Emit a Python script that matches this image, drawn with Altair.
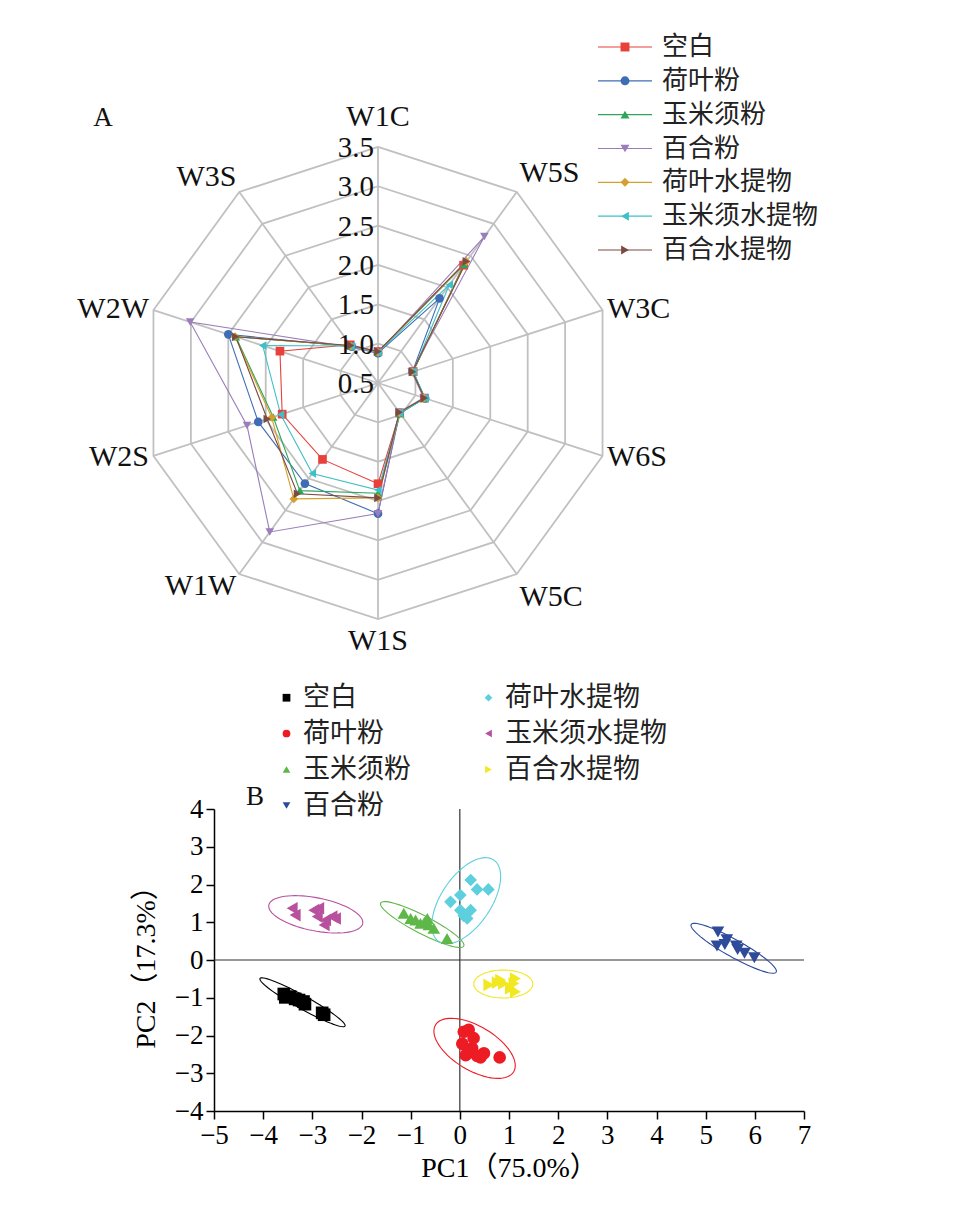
import altair as alt
import pandas as pd
import numpy as np

SERIF = "Liberation Serif"
CJK = "Noto Sans CJK SC"
MIX = "Liberation Serif, Noto Sans CJK SC"

# ---------------- Panel A: radar (electronic nose sensors) ----------------
sensors = ["W1C", "W5S", "W3C", "W6S", "W5C", "W1S", "W1W", "W2S", "W2W", "W3S"]
groups = ["空白", "荷叶粉", "玉米须粉", "百合粉", "荷叶水提物", "玉米须水提物", "百合水提物"]
radar_kongbai = [0.90, 2.35, 0.97, 1.12, 0.97, 1.78, 1.70, 1.78, 1.81, 1.10]
radar_heyefen = [0.88, 1.83, 0.96, 1.13, 0.97, 2.16, 2.08, 2.10, 2.50, 1.07]
radar_yumixufen = [0.89, 2.36, 0.97, 1.12, 0.98, 1.90, 2.19, 1.90, 2.40, 1.08]
radar_baihefen = [0.88, 2.80, 0.95, 1.11, 0.96, 2.16, 2.84, 2.25, 3.01, 1.06]
radar_heyeshui = [0.89, 2.41, 0.96, 1.12, 0.97, 1.96, 2.32, 1.92, 2.41, 1.08]
radar_yumixushui = [0.89, 2.04, 0.97, 1.13, 0.97, 1.86, 1.92, 1.80, 2.04, 1.08]
radar_baiheshui = [0.90, 2.41, 0.96, 1.12, 0.96, 1.96, 2.24, 1.98, 2.40, 1.09]
radar_series = [radar_kongbai, radar_heyefen, radar_yumixufen, radar_baihefen,
                radar_heyeshui, radar_yumixushui, radar_baiheshui]
radar_ticks = [0.5, 1.0, 1.5, 2.0, 2.5, 3.0, 3.5]
radar_colors = ["#E8403A", "#3E6DB5", "#2EA65A", "#9A7DBA", "#D4A030", "#3FC0C8", "#7B4B42"]
radar_shapes = ["square", "circle", "triangle-up", "triangle-down", "diamond", "triangle-left", "triangle-right"]

# ---------------- Panel B: PCA scores ----------------
pca_groups = ["空白", "荷叶粉", "玉米须粉", "百合粉", "荷叶水提物", "玉米须水提物", "百合水提物"]
pca_colors = ["#000000", "#ED1C24", "#5DB848", "#2E4B9B", "#5ECFDD", "#B8509E", "#F2E822"]
pca_shapes = ["square", "circle", "triangle-up", "triangle-down", "diamond", "triangle-left", "triangle-right"]
pc1_kongbai = [-3.58, -3.55, -3.45, -3.35, -3.27, -3.18, -3.15, -2.80, -2.76]
pc2_kongbai = [-0.90, -0.99, -0.97, -1.03, -1.06, -1.10, -1.17, -1.40, -1.45]
pc1_heyefen = [0.08, 0.18, 0.28, 0.05, 0.25, 0.12, 0.35, 0.49, 0.42, 0.81]
pc2_heyefen = [-1.90, -1.85, -2.07, -2.22, -2.34, -2.52, -2.54, -2.47, -2.58, -2.58]
pc1_yumixufen = [-1.14, -1.00, -0.90, -0.80, -0.72, -0.66, -0.63, -0.53, -0.26]
pc2_yumixufen = [1.24, 1.10, 1.06, 0.97, 1.00, 1.10, 0.93, 0.84, 0.57]
pc1_baihefen = [5.25, 5.43, 5.23, 5.39, 5.62, 5.65, 5.79, 5.99]
pc2_baihefen = [0.74, 0.54, 0.37, 0.41, 0.37, 0.28, 0.18, 0.06]
pc1_heyeshui = [0.22, 0.35, 0.58, 0.01, -0.19, 0.01, 0.22, 0.08, 0.15]
pc2_heyeshui = [2.12, 1.87, 1.87, 1.72, 1.54, 1.32, 1.32, 1.17, 1.10]
pc1_yumixushui = [-3.41, -3.35, -2.97, -2.87, -2.90, -2.73, -2.76, -2.60, -2.53]
pc2_yumixushui = [1.37, 1.19, 1.32, 1.37, 1.15, 1.06, 0.93, 1.15, 1.10]
pc1_baiheshui = [0.59, 0.76, 0.83, 1.13, 1.03, 1.13, 0.89, 1.10]
pc2_baiheshui = [-0.66, -0.60, -0.53, -0.49, -0.75, -0.84, -0.62, -0.62]
pc1_all = [pc1_kongbai, pc1_heyefen, pc1_yumixufen, pc1_baihefen, pc1_heyeshui, pc1_yumixushui, pc1_baiheshui]
pc2_all = [pc2_kongbai, pc2_heyefen, pc2_yumixufen, pc2_baihefen, pc2_heyeshui, pc2_yumixushui, pc2_baiheshui]

# confidence ellipses: centre, major half-axis vector, minor half-axis vector (data units)
ell_cx = [-3.20, 0.30, -0.765, 5.57, 0.13, -2.93, 0.884]
ell_cy = [-1.12, -2.34, 0.94, 0.31, 1.57, 1.21, -0.636]
ell_ax = [0.865, 0.795, 0.845, 0.865, 0.56, 0.955, 0.60]
ell_ay = [-0.63, -0.62, -0.57, -0.63, 1.08, -0.245, 0.0]
ell_bx = [-0.065, -0.23, -0.084, -0.086, 0.42, -0.065, 0.0]
ell_by = [-0.15, -0.50, -0.21, -0.20, -0.37, -0.43, 0.37]

# ====================== build panel A ======================
K = 78.7           # px per radial unit
CX, CY = 370, 375  # centre inside plot
RW, RH = 900, 650
XD = [-CX / K, (RW - CX) / K]
YD = [-(RH - CY) / K, CY / K]
N = len(sensors)

rows = []
for g, vals in zip(groups, radar_series):
    for k in range(N + 1):
        rows.append({"g": g, "k": k, "v": vals[k % N]})
radar_df = pd.DataFrame(rows)

ring_rows = []
for r in radar_ticks[1:]:
    for k in range(N + 1):
        ring_rows.append({"ring": r, "k": k, "v": r})
ring_df = pd.DataFrame(ring_rows)

spoke_rows = []
for k in range(N):
    spoke_rows.append({"k": k, "v": radar_ticks[0]})
    spoke_rows.append({"k": k, "v": radar_ticks[-1]})
spoke_df = pd.DataFrame(spoke_rows)

label_df = pd.DataFrame({"s": sensors, "k": list(range(N)), "v": [radar_ticks[-1] + 0.06] * N})
tick_df = pd.DataFrame({"v": radar_ticks, "k": [0] * len(radar_ticks),
                        "lab": [f"{t:.1f}" for t in radar_ticks]})


def polar(ch):
    return ch.transform_calculate(ang="datum.k * 2 * PI / 10").transform_calculate(
        px="(datum.v - 0.5) * sin(datum.ang)", py="(datum.v - 0.5) * cos(datum.ang)")


RX = alt.X("px:Q", scale=alt.Scale(domain=XD, nice=False, zero=False), axis=None)
RY = alt.Y("py:Q", scale=alt.Scale(domain=YD, nice=False, zero=False), axis=None)
RC = alt.Color("g:N", scale=alt.Scale(domain=groups, range=radar_colors), legend=None)
RS = alt.Shape("g:N", scale=alt.Scale(domain=groups, range=radar_shapes), legend=None)

rings = polar(alt.Chart(ring_df)).mark_line(color="#C0C0C0", strokeWidth=1.8).encode(
    x=RX, y=RY, detail="ring:N", order="k:Q")
spokes = polar(alt.Chart(spoke_df)).mark_line(color="#C0C0C0", strokeWidth=1.8).encode(
    x=RX, y=RY, detail="k:N", order="v:Q")
lines = polar(alt.Chart(radar_df)).mark_line(strokeWidth=1.1).encode(
    x=RX, y=RY, color=RC, detail="g:N", order="k:Q")
points = polar(alt.Chart(radar_df)).transform_filter("datum.k < 10").mark_point(
    filled=True, size=75, opacity=1).encode(x=RX, y=RY, color=RC, shape=RS)


def sensor_layer(ks, align, baseline, dy=0):
    return polar(alt.Chart(label_df)).transform_filter(
        alt.FieldOneOfPredicate(field="k", oneOf=ks)).mark_text(
        font=SERIF, fontSize=30, color="#111", align=align, baseline=baseline, dy=dy).encode(
        x=RX, y=RY, text="s:N")


sensor_layers = [
    sensor_layer([0], "center", "bottom", -10),
    sensor_layer([5], "center", "top", 2),
    sensor_layer([1], "left", "bottom"),
    sensor_layer([2, 3], "left", "middle"),
    sensor_layer([4], "left", "top", 4),
    sensor_layer([9], "right", "bottom", 4),
    sensor_layer([7, 8], "right", "middle"),
    sensor_layer([6], "right", "middle", 8),
]
tick_txt = polar(alt.Chart(tick_df)).mark_text(
    font=SERIF, fontSize=29, color="#111", align="right", baseline="middle", dx=-4, dy=1).encode(
    x=RX, y=RY, text="lab:N")
a_txt = alt.Chart(pd.DataFrame({"t": ["A"]})).mark_text(
    font=SERIF, fontSize=27, color="#111", align="center", baseline="middle").encode(
    x=alt.value(95), y=alt.value(110), text="t:N")

leg_df = pd.DataFrame({"g": groups})
LY = alt.Y("g:N", scale=alt.Scale(type="point", domain=groups, range=[39, 242], padding=0), axis=None)
leg_rule = alt.Chart(leg_df).mark_rule(strokeWidth=1.2).encode(
    x=alt.value(590), x2=alt.value(644), y=LY, color=RC)
leg_pt = alt.Chart(leg_df).mark_point(filled=True, size=80, opacity=1).encode(
    x=alt.value(617), y=LY, color=RC, shape=RS)
leg_txt = alt.Chart(leg_df).mark_text(
    font=CJK, fontSize=26, color="#222", align="left", baseline="middle").encode(
    x=alt.value(654), y=LY, text="g:N")

panel_a = alt.layer(rings, spokes, lines, points, *sensor_layers, tick_txt, a_txt,
                    leg_rule, leg_pt, leg_txt).resolve_scale(y="independent").properties(
    width=RW, height=RH)

# ====================== build panel B ======================
pts = []
for g, xs, ys in zip(pca_groups, pc1_all, pc2_all):
    for x, y in zip(xs, ys):
        pts.append({"grp": g, "x": x, "y": y})
pts_df = pd.DataFrame(pts)

ell_df = pd.DataFrame({"grp": pca_groups, "cx": ell_cx, "cy": ell_cy,
                       "ax": ell_ax, "ay": ell_ay, "bx": ell_bx, "by": ell_by})
ell_df = ell_df.merge(pd.DataFrame({"t": np.arange(0, 361, 5)}), how="cross")

x_scale = alt.Scale(domain=[-5, 7], nice=False, zero=False)
y_scale = alt.Scale(domain=[-4, 4], nice=False, zero=False)
x_axis = alt.Axis(title="PC1（75.0%）", values=list(range(-5, 8)), grid=False,
                  tickSize=8, tickColor="black", tickWidth=1.5,
                  domainColor="black", domainWidth=1.5,
                  labelFont=SERIF, labelFontSize=27, labelColor="black", labelPadding=3,
                  labelFlush=False, labelOverlap=False,
                  titleFont=MIX, titleFontSize=28, titleFontWeight="normal",
                  titleColor="black", titlePadding=6)
y_axis = alt.Axis(title="PC2（17.3%）", values=list(range(-4, 5)), grid=False,
                  tickSize=8, tickColor="black", tickWidth=1.5,
                  domainColor="black", domainWidth=1.5,
                  labelFont=SERIF, labelFontSize=27, labelColor="black", labelPadding=3,
                  labelFlush=False, labelOverlap=False,
                  titleFont=MIX, titleFontSize=28, titleFontWeight="normal",
                  titleColor="black", titlePadding=14)
SX = alt.X("x:Q", scale=x_scale, axis=x_axis)
SY = alt.Y("y:Q", scale=y_scale, axis=y_axis)

pleg = alt.Legend(title=None, orient="none", legendX=59, legendY=-125, columns=2,
                  columnPadding=64, rowPadding=8, labelFont=CJK, labelFontSize=27,
                  labelColor="#222", labelLimit=400, symbolSize=60, symbolStrokeWidth=0,
                  labelOffset=3, padding=0)
PC = alt.Color("grp:N", scale=alt.Scale(domain=pca_groups, range=pca_colors), legend=pleg)
PS = alt.Shape("grp:N", scale=alt.Scale(domain=pca_groups, range=pca_shapes), legend=pleg)

ellipses = alt.Chart(ell_df).transform_calculate(
    x="datum.cx + cos(datum.t * PI / 180) * datum.ax + sin(datum.t * PI / 180) * datum.bx",
    y="datum.cy + cos(datum.t * PI / 180) * datum.ay + sin(datum.t * PI / 180) * datum.by",
).mark_line(strokeWidth=1.1).encode(
    x=SX, y=SY, detail="grp:N", order="t:Q",
    stroke=alt.Stroke("grp:N", scale=alt.Scale(domain=pca_groups, range=pca_colors), legend=None))
zero_df = pd.DataFrame({"x": [0], "y": [0]})
zero_v = alt.Chart(zero_df).mark_rule(color="#333", strokeWidth=1.2).encode(x=SX)
zero_h = alt.Chart(zero_df).mark_rule(color="#333", strokeWidth=1.2).encode(y=SY)
pca_pts = alt.Chart(pts_df).mark_point(filled=True, size=160, opacity=1).encode(
    x=SX, y=SY, color=PC, shape=PS)
b_txt = alt.Chart(pd.DataFrame({"t": ["B"]})).mark_text(
    font=SERIF, fontSize=27, color="#111", align="center", baseline="middle").encode(
    x=alt.value(41), y=alt.value(-12), text="t:N")

panel_b = alt.layer(zero_v, zero_h, ellipses, pca_pts, b_txt).properties(width=590, height=302)

spacer = alt.Chart(pd.DataFrame({"s": [""]})).mark_text().encode(
    x=alt.value(0), y=alt.value(0), text="s:N").properties(width=124, height=20)

bottom = alt.hconcat(spacer, panel_b, spacing=0).resolve_scale(
    color="independent", shape="independent")

chart = alt.vconcat(panel_a, bottom, spacing=26).resolve_scale(
    color="independent", shape="independent").properties(padding=0).configure_view(stroke=None)

chart.save("out.html", embed_options={"renderer": "svg", "actions": False})
